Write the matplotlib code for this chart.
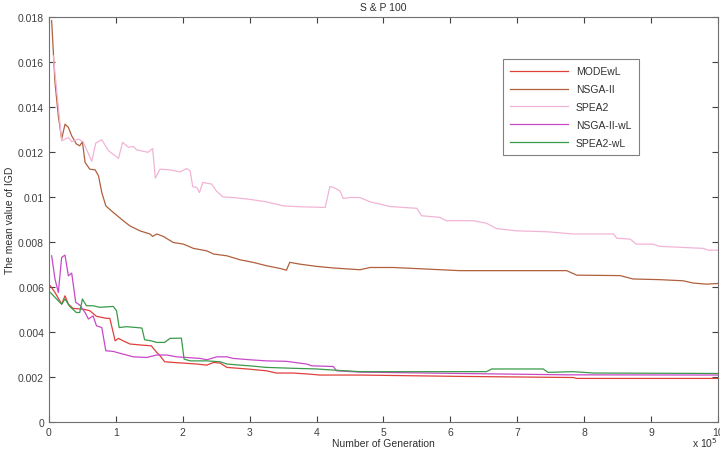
import matplotlib.pyplot as plt

plt.rcParams['font.family'] = ['Liberation Sans', 'DejaVu Sans']

# generation in units of 1e5
modewl_x = [0.02, 0.09, 0.19, 0.24, 0.29, 0.36, 0.51, 0.61, 0.71, 0.86, 0.91, 0.99, 1.04, 1.11, 1.21,
            1.39, 1.53, 1.61, 1.66, 1.73, 1.86, 2.01, 2.21, 2.36, 2.46, 2.56, 2.66, 2.96, 3.25, 3.40,
            3.65, 3.90, 4.05, 4.65, 6.14, 7.84, 7.89, 10.0]
modewl_y = [0.00606, 0.00576, 0.00524, 0.00561, 0.00524, 0.00505, 0.00502, 0.00495, 0.0047, 0.00461,
            0.00461, 0.00361, 0.00372, 0.00361, 0.00347, 0.00342, 0.00339, 0.0031, 0.00295, 0.00268,
            0.00265, 0.00262, 0.00258, 0.00253, 0.00265, 0.00262, 0.00243, 0.00236, 0.00228, 0.00218,
            0.00218, 0.00213, 0.00209, 0.00209, 0.00203, 0.00198, 0.00194, 0.00194]

nsga_x = [0.04, 0.09, 0.14, 0.19, 0.24, 0.29, 0.34, 0.41, 0.46, 0.50, 0.54, 0.61, 0.69, 0.74, 0.79,
          0.85, 0.96, 1.11, 1.21, 1.36, 1.51, 1.55, 1.61, 1.71, 1.86, 2.01, 2.16, 2.36, 2.46, 2.66,
          2.86, 3.05, 3.25, 3.45, 3.55, 3.60, 3.75, 4.0, 4.25, 4.65, 4.80, 5.15, 5.65, 6.14, 6.99,
          7.74, 7.89, 8.54, 8.73, 9.13, 9.48, 9.63, 9.83, 10.0]
nsga_y = [0.01784, 0.0151, 0.01361, 0.01258, 0.01324, 0.0131, 0.01272, 0.01236, 0.01228, 0.01246,
          0.01154, 0.01124, 0.01121, 0.01095, 0.0102, 0.00961, 0.00932, 0.00895, 0.00872, 0.0085,
          0.00836, 0.00825, 0.00836, 0.00825, 0.00798, 0.00791, 0.00772, 0.00761, 0.00747, 0.00739,
          0.00721, 0.0071, 0.00695, 0.00683, 0.00675, 0.0071, 0.00702, 0.00692, 0.00685, 0.00677,
          0.00687, 0.00687, 0.0068, 0.00673, 0.00673, 0.00673, 0.00653, 0.00651, 0.00636, 0.00633,
          0.00628, 0.00618, 0.00613, 0.00616]

spea_x = [0.065, 0.19, 0.29, 0.34, 0.44, 0.51, 0.57, 0.64, 0.70, 0.79, 0.89, 1.04, 1.10, 1.19, 1.26,
          1.31, 1.48, 1.55, 1.59, 1.66, 1.81, 1.96, 2.06, 2.11, 2.15, 2.21, 2.25, 2.30, 2.43, 2.50,
          2.60, 2.75, 3.00, 3.25, 3.50, 3.75, 4.13, 4.20, 4.25, 4.35, 4.40, 4.50, 4.65, 4.80, 5.10,
          5.50, 5.57, 5.84, 5.94, 6.34, 6.54, 6.69, 6.99, 7.44, 7.84, 8.44, 8.49, 8.69, 8.78, 9.03,
          9.13, 9.78, 9.86, 10.0]
spea_y = [0.01628, 0.0125, 0.01265, 0.01246, 0.01258, 0.01246, 0.01206, 0.01159, 0.0124, 0.01255,
          0.01206, 0.01172, 0.01243, 0.01221, 0.01225, 0.0121, 0.01199, 0.01216, 0.01084, 0.01124,
          0.01121, 0.01112, 0.01127, 0.01117, 0.01046, 0.01043, 0.0102, 0.01065, 0.01058, 0.01028,
          0.01001, 0.00998, 0.0099, 0.00979, 0.00961, 0.00957, 0.00954, 0.01047, 0.01043, 0.01028,
          0.00994, 0.00998, 0.00998, 0.00979, 0.00958, 0.0095, 0.00917, 0.0091, 0.00895, 0.00895,
          0.00884, 0.0086, 0.0085, 0.00846, 0.00836, 0.00836, 0.00817, 0.00813, 0.00791, 0.00791,
          0.00781, 0.00772, 0.00764, 0.00764]

nsgawl_x = [0.04, 0.09, 0.14, 0.19, 0.24, 0.29, 0.34, 0.40, 0.46, 0.54, 0.59, 0.66, 0.71, 0.79, 0.85,
            0.96, 1.11, 1.26, 1.46, 1.61, 1.76, 1.91, 2.06, 2.26, 2.36, 2.51, 2.66, 2.75, 3.0, 3.25,
            3.55, 3.85, 3.93, 4.25, 4.30, 4.65, 6.14, 7.74, 10.0]
nsgawl_y = [0.00739, 0.00636, 0.00576, 0.00732, 0.00742, 0.0065, 0.00662, 0.00532, 0.0052, 0.00487,
            0.00458, 0.00472, 0.00428, 0.0042, 0.00317, 0.00314, 0.00302, 0.0029, 0.00287, 0.00298,
            0.00298, 0.0029, 0.00287, 0.00283, 0.00277, 0.0029, 0.0029, 0.00283, 0.00277, 0.00272,
            0.0027, 0.00258, 0.0025, 0.00247, 0.00228, 0.00222, 0.00216, 0.0021, 0.00209]

speawl_x = [0.02, 0.14, 0.19, 0.24, 0.31, 0.41, 0.46, 0.50, 0.56, 0.66, 0.76, 0.96, 1.01, 1.05, 1.16,
            1.39, 1.43, 1.53, 1.61, 1.73, 1.81, 1.98, 2.02, 2.11, 2.36, 2.56, 2.66, 2.86, 3.0, 3.25,
            3.65, 4.0, 4.25, 4.65, 5.65, 6.54, 6.62, 7.39, 7.46, 7.84, 8.14, 10.0]
speawl_y = [0.00576, 0.00539, 0.00524, 0.00547, 0.00514, 0.00487, 0.00487, 0.00547, 0.00517, 0.00517,
            0.0051, 0.00514, 0.00495, 0.0042, 0.00424, 0.00418, 0.00366, 0.00361, 0.00354, 0.00354,
            0.00372, 0.00373, 0.0028, 0.00272, 0.00272, 0.00268, 0.00258, 0.00253, 0.0025, 0.00243,
            0.00239, 0.00236, 0.00231, 0.00224, 0.00224, 0.00224, 0.00236, 0.00236, 0.00221, 0.00224,
            0.00218, 0.00216]

fig = plt.figure(figsize=(7.2, 4.52), dpi=100)
ax = fig.add_axes([0.068, 0.064, 0.929, 0.896])

ax.plot(modewl_x, modewl_y, color='#e0403c', lw=0.9, label='MODEwL')
ax.plot(nsga_x, nsga_y, color='#b0603c', lw=0.9, label='NSGA-II')
ax.plot(spea_x, spea_y, color='#f2b4d6', lw=0.9, label='SPEA2')
ax.plot(nsgawl_x, nsgawl_y, color='#c848c8', lw=0.9, label='NSGA-II-wL')
ax.plot(speawl_x, speawl_y, color='#3a9a4c', lw=0.9, label='SPEA2-wL')

ax.set_xlim(0, 10)
ax.set_ylim(0, 0.018)
ax.set_xticks(range(0, 11))
ax.set_yticks([0, 0.002, 0.004, 0.006, 0.008, 0.01, 0.012, 0.014, 0.016, 0.018])
ax.set_yticklabels(['0', '0.002', '0.004', '0.006', '0.008', '0.01', '0.012', '0.014', '0.016', '0.018'])
ax.tick_params(direction='in', top=True, right=True, length=4, labelsize=7.5,
               colors='#404040', labelcolor='#404040')
for s in ax.spines.values():
    s.set_color('#707070')

ax.set_title('S & P 100', fontsize=7.5, color='#303030', pad=5)
ax.set_xlabel('Number of Generation', fontsize=7.5, color='#303030', labelpad=1)
ax.set_ylabel('The mean value of IGD', fontsize=7.5, color='#303030', labelpad=2)
ax.text(0.999, -0.033, r'x 10$^5$', transform=ax.transAxes, fontsize=7.5, color='#303030',
        ha='right', va='top')

leg = ax.legend(loc='upper left', bbox_to_anchor=(0.671, 0.909), fontsize=7.5, frameon=True,
                fancybox=False, handlelength=5.5, labelspacing=0.75, borderpad=0.7,
                edgecolor='#606060')
leg.get_frame().set_linewidth(0.8)
for t in leg.get_texts():
    t.set_color('#303030')

fig.savefig('out.png', dpi=100)
